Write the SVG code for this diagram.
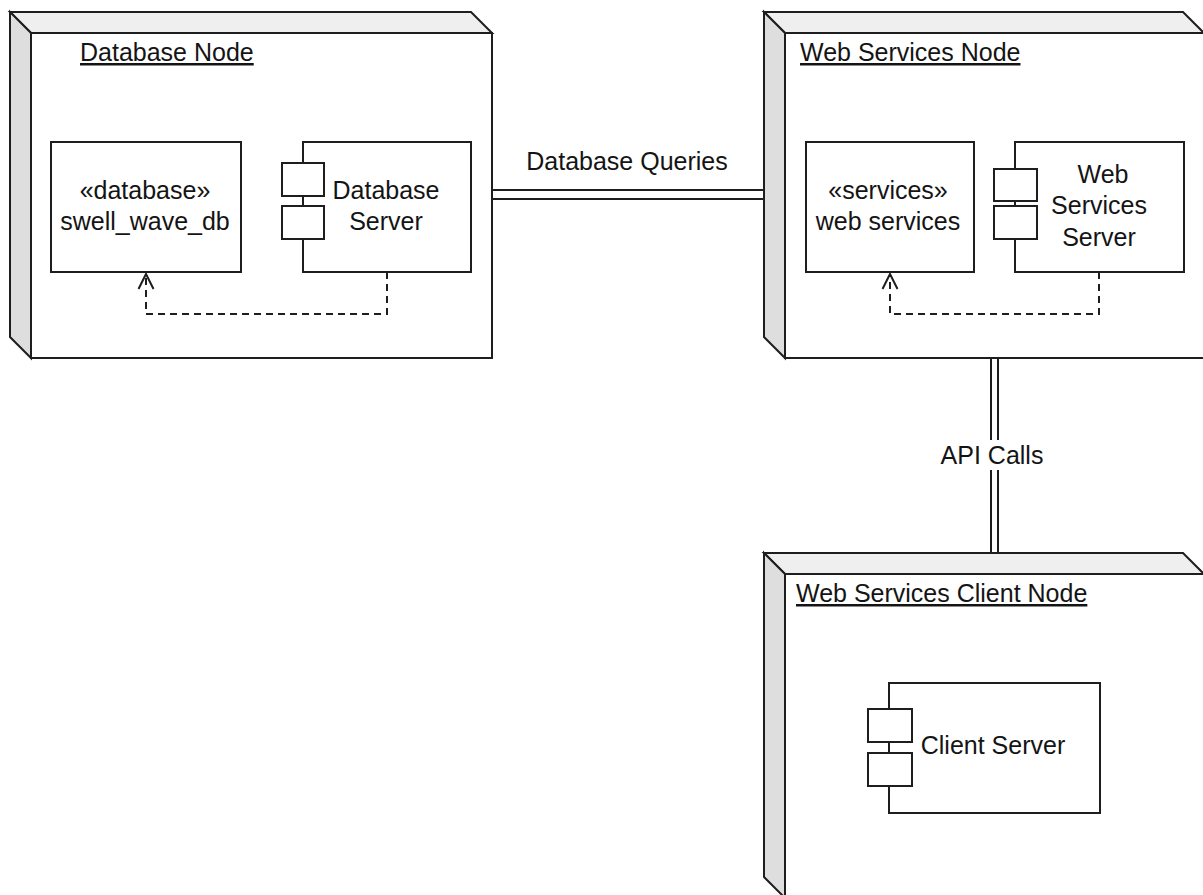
<svg xmlns="http://www.w3.org/2000/svg" width="1203" height="895" viewBox="0 0 1203 895">
  <style>
    .face-front { fill: #ffffff; stroke: #1e1e1e; stroke-width: 2; }
    .face-top { fill: #efefef; stroke: #1e1e1e; stroke-width: 2; stroke-linejoin: miter; }
    .face-side { fill: #dedede; stroke: #1e1e1e; stroke-width: 2; stroke-linejoin: miter; }
    .box { fill: #ffffff; stroke: #1e1e1e; stroke-width: 2; }
    .lbl { font-family: "Liberation Sans", Arial, sans-serif; font-size: 25px; fill: #141414; }
    .mid { text-anchor: middle; }
    .title { text-decoration: underline; }
    .link { fill: none; stroke: #1e1e1e; stroke-width: 2; }
    .dep { fill: none; stroke: #1e1e1e; stroke-width: 2; stroke-dasharray: 7 5; }
    .head { fill: none; stroke: #1e1e1e; stroke-width: 2; stroke-linejoin: miter; }
  </style>

  <rect x="0" y="0" width="1203" height="895" fill="#ffffff"/>

  <!-- Database node -->
  <g id="database-node">
    <polygon class="face-top" points="10,12 471,12 492,33 31,33"/>
    <polygon class="face-side" points="10,12 31,33 31,358 10,337"/>
    <rect class="face-front" x="31" y="33" width="461" height="325"/>
    <text class="lbl title" x="80" y="61">Database Node</text>
  </g>

  <g id="swell-wave-db">
    <rect class="box" x="51" y="142" width="190" height="130"/>
    <text class="lbl mid" x="145" y="199">«database»</text>
    <text class="lbl mid" x="145" y="230">swell_wave_db</text>
  </g>

  <g id="database-server">
    <rect class="box" x="303" y="142" width="168" height="130"/>
    <rect class="box" x="282" y="163" width="42" height="33"/>
    <rect class="box" x="282" y="206" width="42" height="33"/>
    <text class="lbl mid" x="386" y="199">Database</text>
    <text class="lbl mid" x="386" y="230">Server</text>
  </g>

  <!-- Web services node -->
  <g id="web-services-node">
    <polygon class="face-top" points="764,12 1183,12 1204,33 785,33"/>
    <polygon class="face-side" points="764,12 785,33 785,358 764,337"/>
    <rect class="face-front" x="785" y="33" width="420" height="325"/>
    <text class="lbl title" x="800" y="61">Web Services Node</text>
  </g>

  <g id="web-services">
    <rect class="box" x="806" y="142" width="168" height="130"/>
    <text class="lbl mid" x="888" y="199">«services»</text>
    <text class="lbl mid" x="888" y="230">web services</text>
  </g>

  <g id="web-services-server">
    <rect class="box" x="1015" y="142" width="169" height="130"/>
    <rect class="box" x="994" y="169" width="43" height="32"/>
    <rect class="box" x="994" y="206" width="43" height="33"/>
    <text class="lbl mid" x="1103" y="183">Web</text>
    <text class="lbl mid" x="1099" y="214">Services</text>
    <text class="lbl mid" x="1099" y="246">Server</text>
  </g>

  <!-- Web services client node -->
  <g id="web-services-client-node">
    <polygon class="face-top" points="764,553 1183,553 1204,574 785,574"/>
    <polygon class="face-side" points="764,553 785,574 785,898 764,877"/>
    <rect class="face-front" x="785" y="574" width="420" height="324"/>
    <text class="lbl title" x="796" y="602">Web Services Client Node</text>
  </g>

  <g id="client-server">
    <rect class="box" x="889" y="683" width="211" height="130"/>
    <rect class="box" x="868" y="709" width="44" height="33"/>
    <rect class="box" x="868" y="753" width="44" height="33"/>
    <text class="lbl mid" x="993" y="754">Client Server</text>
  </g>

  <!-- Connectors -->
  <g id="connectors">
    <!-- Database Queries: double line between the two upper nodes -->
    <line class="link" x1="492" y1="190" x2="764" y2="190"/>
    <line class="link" x1="492" y1="199" x2="764" y2="199"/>
    <text class="lbl mid" x="627" y="170">Database Queries</text>

    <!-- API Calls: double line down to the client node -->
    <line class="link" x1="991" y1="358" x2="991" y2="553"/>
    <line class="link" x1="998" y1="358" x2="998" y2="553"/>
    <rect x="944" y="440" width="96" height="30" fill="#ffffff"/>
    <text class="lbl mid" x="992" y="464">API Calls</text>

    <!-- dependency: Database Server to swell_wave_db -->
    <polyline class="dep" points="387,272 387,314 146,314 146,275"/>
    <polyline class="head" points="138.5,289 146,274 153.5,289"/>

    <!-- dependency: Web Services Server to web services -->
    <polyline class="dep" points="1099,272 1099,314 890,314 890,275"/>
    <polyline class="head" points="882.5,289 890,274 897.5,289"/>
  </g>
</svg>
